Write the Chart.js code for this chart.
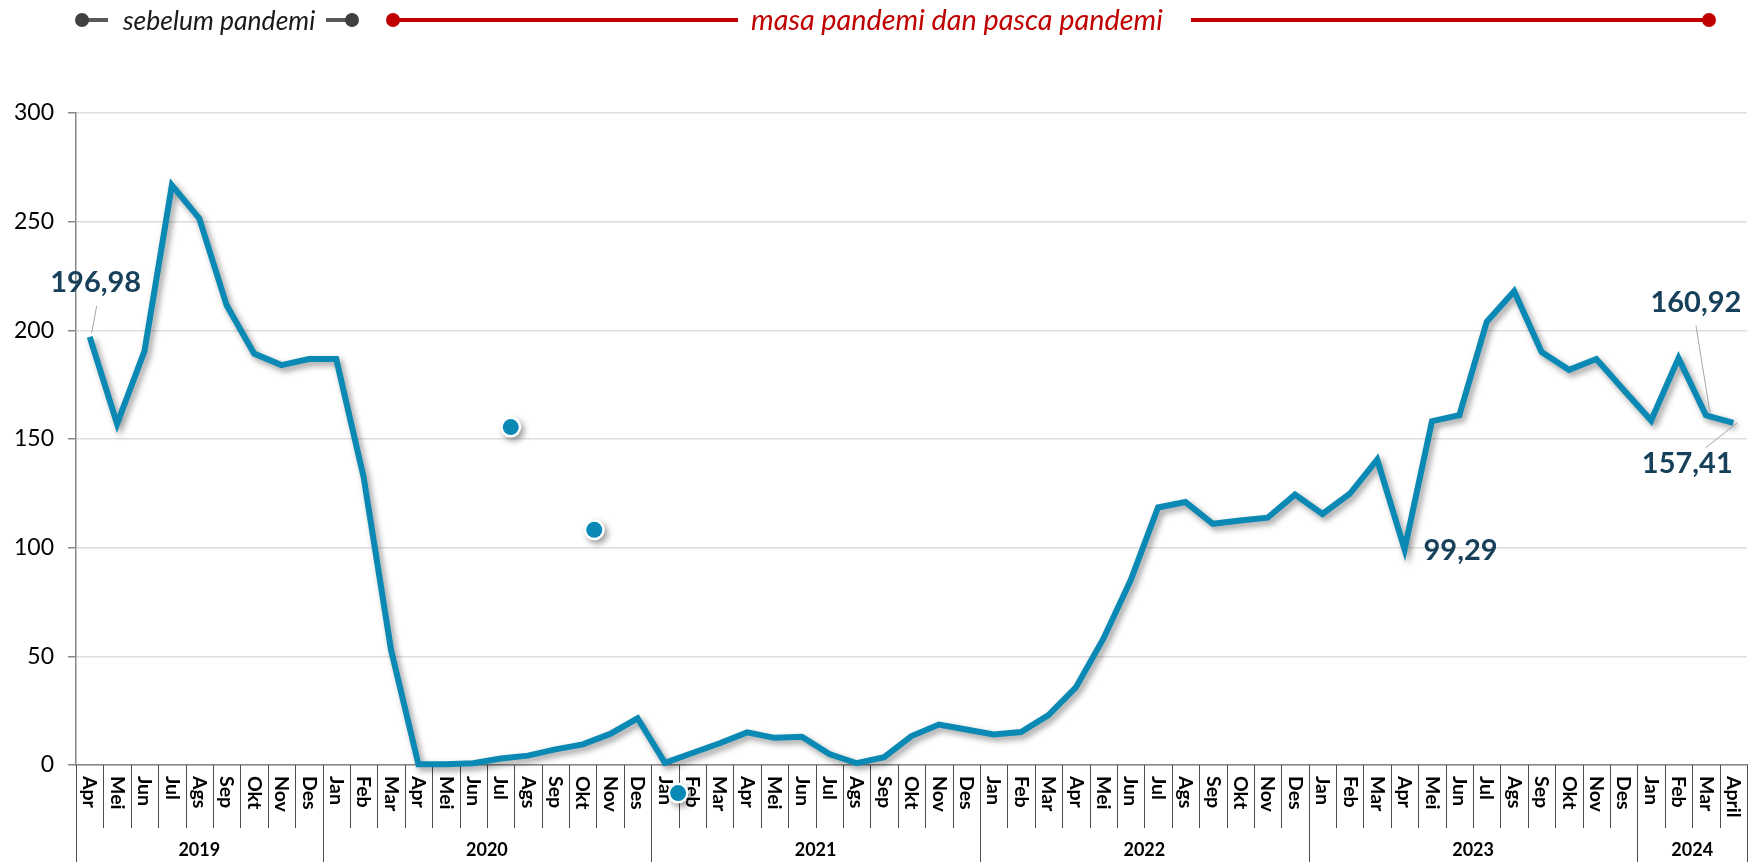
<!DOCTYPE html>
<html><head><meta charset="utf-8">
<script src="https://cdn.jsdelivr.net/npm/chart.js@4.4.1/dist/chart.umd.min.js"></script>
<style>html,body{margin:0;padding:0;background:#fff;}#wrap{width:1749px;height:862px;position:relative;}</style>
</head><body><div id="wrap"><canvas id="c" width="1749" height="862"></canvas></div>
<script>
// ---- data ----
const months = ['Apr','Mei','Jun','Jul','Ags','Sep','Okt','Nov','Des',
  'Jan','Feb','Mar','Apr','Mei','Jun','Jul','Ags','Sep','Okt','Nov','Des',
  'Jan','Feb','Mar','Apr','Mei','Jun','Jul','Ags','Sep','Okt','Nov','Des',
  'Jan','Feb','Mar','Apr','Mei','Jun','Jul','Ags','Sep','Okt','Nov','Des',
  'Jan','Feb','Mar','Apr','Mei','Jun','Jul','Ags','Sep','Okt','Nov','Des',
  'Jan','Feb','Mar','April'];
const years = ['2019','2020','2021','2022','2023','2024'];
const yearCounts = [9,12,12,12,12,4];
const values = [
  196.98,157,190.5,266.8,251.5,211.5,189.3,184,186.8,
  186.8,132.5,53,0.3,0.3,0.8,3,4.3,7.2,9.5,14.3,21.5,
  1,5.5,10,15,12.5,13,5,0.8,3.6,13.3,18.6,16.3,
  14,15.2,23,35.7,58,85,118.5,121,111,112.5,113.8,124.4,
  115.5,124.8,140.5,99.29,158.2,161,204,218,190,181.8,186.8,172.5,
  158.5,187.2,160.92,157.41];
const labelledIdx = [0,48,59,60];
const strayX = [15.37,18.42,21.48];
const strayY = [155.5,108.2,-12.9];
const legendLeft = 'sebelum pandemi';
const legendRight = 'masa pandemi dan pasca pandemi';

// ---- styles ----
const LINE = '#0b89b5';
const FONT = 'Lato, "Open Sans", sans-serif';
const labelStyle = {
  0:  {dx: 6,   dy: -54, leader: [[7,-31],[2,-4]]},
  48: {dx: 56,  dy: 1,   leader: null},
  59: {dx: -10, dy: -113, leader: [[-10,-90],[4,-3]]},
  60: {dx: -46, dy: 41,  leader: [[4,0],[-28,25]]}
};

const setShadow = (ctx) => {
  ctx.shadowColor = 'rgba(0,0,0,0.4)'; ctx.shadowBlur = 6;
  ctx.shadowOffsetX = 3; ctx.shadowOffsetY = 3.5;
};
const shadowPlugin = {
  id: 'shadow',
  beforeDatasetDraw(chart) { chart.ctx.save(); setShadow(chart.ctx); },
  afterDatasetDraw(chart) { chart.ctx.restore(); }
};

const axisPlugin = {
  id: 'xgroups',
  beforeDatasetsDraw(chart) {
    const ctx = chart.ctx, xs = chart.scales.x, area = chart.chartArea;
    const n = months.length, w = (area.right - area.left) / n;
    const y0 = area.bottom;
    ctx.save();
    ctx.strokeStyle = '#4d4d4d'; ctx.lineWidth = 1;
    for (let k = 0; k <= n; k++) {
      const x = Math.round(area.left + k * w) + 0.5;
      ctx.beginPath(); ctx.moveTo(x, y0); ctx.lineTo(x, y0 + 63); ctx.stroke();
    }
    let start = 0;
    ctx.font = 'bold 18px ' + FONT; ctx.fillStyle = '#000';
    ctx.textAlign = 'center'; ctx.textBaseline = 'middle';
    for (let g = 0; g <= years.length; g++) {
      const x = Math.round(area.left + start * w) + 0.5;
      ctx.beginPath(); ctx.moveTo(x, y0); ctx.lineTo(x, 862); ctx.stroke();
      if (g < years.length) {
        const a = xs.getPixelForValue(start), b = xs.getPixelForValue(start + yearCounts[g] - 1);
        ctx.fillText(years[g], (a + b) / 2, 850);
        start += yearCounts[g];
      }
    }
    ctx.font = 'bold 19.5px ' + FONT;
    ctx.textAlign = 'left'; ctx.textBaseline = 'middle';
    for (let i = 0; i < n; i++) {
      const x = xs.getPixelForValue(i);
      ctx.save(); ctx.translate(x, y0 + 11); ctx.rotate(Math.PI / 2);
      ctx.fillText(months[i], 0, 0); ctx.restore();
    }
    ctx.restore();
  },
  afterDatasetsDraw(chart) {
    // stray markers, positioned through the chart's own scales
    const ctx = chart.ctx, xs = chart.scales.x, ys = chart.scales.y;
    ctx.save();
    for (let i = 0; i < strayX.length; i++) {
      const px = xs.getPixelForValue(strayX[i]), py = ys.getPixelForValue(strayY[i]);
      ctx.save(); setShadow(ctx);
      ctx.fillStyle = '#ffffff'; ctx.beginPath(); ctx.arc(px, py, 10.5, 0, Math.PI * 2); ctx.fill();
      ctx.restore();
      ctx.fillStyle = LINE; ctx.beginPath(); ctx.arc(px, py, 8, 0, Math.PI * 2); ctx.fill();
    }
    ctx.restore();
  },
  afterDraw(chart) {
    const ctx = chart.ctx, xs = chart.scales.x, ys = chart.scales.y;
    ctx.save();
    for (const i of labelledIdx) {
      const px = xs.getPixelForValue(i), py = ys.getPixelForValue(values[i]);
      const st = labelStyle[i];
      if (st.leader) {
        ctx.strokeStyle = '#a6a6a6'; ctx.lineWidth = 1;
        ctx.beginPath();
        ctx.moveTo(px + st.leader[0][0], py + st.leader[0][1]);
        ctx.lineTo(px + st.leader[1][0], py + st.leader[1][1]);
        ctx.stroke();
      }
      ctx.font = 'bold 29px ' + FONT; ctx.fillStyle = '#17405a';
      ctx.textAlign = 'center'; ctx.textBaseline = 'middle';
      ctx.fillText(values[i].toFixed(2).replace('.', ','), px + st.dx, py + st.dy);
    }
    const cy = 20;
    const fitFont = (txt, width) => {
      ctx.font = 'italic 20px ' + FONT;
      const m = ctx.measureText(txt).width;
      return 'italic ' + (20 * width / m).toFixed(1) + 'px ' + FONT;
    };
    const dot = (x, c) => { ctx.fillStyle = c; ctx.beginPath(); ctx.arc(x, cy, 7, 0, Math.PI * 2); ctx.fill(); };
    const seg = (x1, x2, c, lw) => { ctx.strokeStyle = c; ctx.lineWidth = lw; ctx.beginPath(); ctx.moveTo(x1, cy); ctx.lineTo(x2, cy); ctx.stroke(); };
    seg(82, 108, '#595959', 4); dot(82, '#404040');
    seg(326, 352, '#595959', 4); dot(352, '#404040');
    ctx.font = fitFont(legendLeft, 192); ctx.fillStyle = '#1a1a1a';
    ctx.textAlign = 'left'; ctx.textBaseline = 'middle';
    ctx.fillText(legendLeft, 123, cy + 1);
    seg(393, 738, '#c00000', 4); dot(393, '#c00000');
    seg(1191, 1709, '#c00000', 4); dot(1709, '#c00000');
    ctx.font = fitFont(legendRight, 412); ctx.fillStyle = '#c00000';
    ctx.fillText(legendRight, 751, cy + 1);
    ctx.restore();
  }
};

new Chart(document.getElementById('c'), {
  type: 'line',
  data: {
    labels: months,
    datasets: [
      { data: values, borderColor: LINE, borderWidth: 6, pointRadius: 0, tension: 0,
        borderJoinStyle: 'miter', borderCapStyle: 'butt', clip: false }
    ]
  },
  options: {
    responsive: false, animation: false, devicePixelRatio: 1,
    layout: { padding: { top: 113, right: 2, left: 0, bottom: 0 } },
    plugins: { legend: { display: false }, tooltip: { enabled: false } },
    scales: {
      x: { type: 'category', offset: true,
        grid: { display: false },
        border: { display: true, color: '#868686', width: 1.5 },
        ticks: { display: false },
        afterFit(s) { s.height = 97; } },
      y: { min: 0, max: 300,
        ticks: { stepSize: 50, color: '#000', padding: 14, font: { family: FONT, size: 23 } },
        grid: { color: '#dedede', lineWidth: 1.5, tickLength: 8, tickColor: '#868686' },
        border: { color: '#868686', width: 1.5 },
        afterFit(s) { s.width = 76; } }
    }
  },
  plugins: [shadowPlugin, axisPlugin]
});
</script></body></html>
